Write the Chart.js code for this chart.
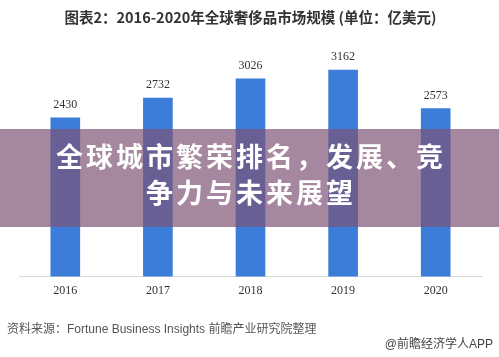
<!DOCTYPE html>
<html>
<head>
<meta charset="utf-8">
<script src="https://cdn.jsdelivr.net/npm/chart.js@4/dist/chart.umd.min.js"></script>
<style>
  html, body { margin:0; padding:0; background:#ffffff; }
  #wrap { position:relative; width:499px; height:357px; overflow:hidden; }
  canvas { display:block; }
  #banner {
    position:absolute; left:0; top:129px; width:499px; height:98px;
    background:rgba(125,81,117,0.69);
    color:#ffffff; font-family:"Noto Sans CJK SC", sans-serif; font-weight:700;
    font-size:27px; letter-spacing:3px; text-align:center; line-height:36px;
    box-sizing:border-box; padding-top:9px; padding-left:3px;
  }
  #source {
    position:absolute; left:7px; top:319px; font-family:"Liberation Sans", "Noto Sans CJK SC", sans-serif;
    font-size:12px; color:#555555; white-space:nowrap;
  }
  #brand {
    position:absolute; right:6px; top:334px; font-family:"Liberation Sans", "Noto Sans CJK SC", sans-serif;
    font-size:12px; color:#444444; white-space:nowrap;
  }
</style>
</head>
<body>
<div id="wrap">
  <canvas id="c" width="499" height="357"></canvas>
  <div id="banner">全球城市繁荣排名，发展、竞<br>争力与未来展望</div>
  <div id="source">资料来源：Fortune Business Insights 前瞻产业研究院整理</div>
  <div id="brand">@前瞻经济学人APP</div>
</div>
<script>
const titleText = "图表2：2016-2020年全球奢侈品市场规模 (单位：亿美元)";
const categories = ["2016", "2017", "2018", "2019", "2020"];
const marketSize = [2430, 2732, 3026, 3162, 2573];

const valueLabels = {
  id: 'valueLabels',
  afterDatasetsDraw(chart) {
    const ctx = chart.ctx;
    const meta = chart.getDatasetMeta(0);
    ctx.save();
    ctx.font = '12px "Liberation Serif", serif';
    ctx.fillStyle = '#333333';
    ctx.textAlign = 'center';
    ctx.textBaseline = 'middle';
    meta.data.forEach((bar, i) => {
      ctx.fillText(String(chart.data.datasets[0].data[i]), bar.x, bar.y - 13);
    });
    ctx.restore();
  }
};

new Chart(document.getElementById('c'), {
  type: 'bar',
  data: {
    labels: categories,
    datasets: [{
      data: marketSize,
      backgroundColor: '#3b7dd8',
      barThickness: 29
    }]
  },
  options: {
    responsive: false,
    animation: false,
    layout: { padding: { left: 19, right: 17, top: 0, bottom: 51 } },
    plugins: {
      legend: { display: false },
      tooltip: { enabled: false },
      title: {
        display: true,
        text: titleText,
        color: '#333333',
        font: { family: '"Noto Sans CJK SC", sans-serif', size: 14.5, weight: 'bold' },
        padding: { top: 8.5, bottom: 22 }
      }
    },
    scales: {
      x: {
        grid: { display: false, drawTicks: false },
        border: { display: true, color: '#d9d9d9', width: 1 },
        ticks: {
          color: '#333333',
          padding: 7.5,
          font: { family: '"Liberation Serif", serif', size: 12 }
        }
      },
      y: {
        display: false,
        min: 0,
        max: 3500
      }
    }
  },
  plugins: [valueLabels]
});
</script>
</body>
</html>
